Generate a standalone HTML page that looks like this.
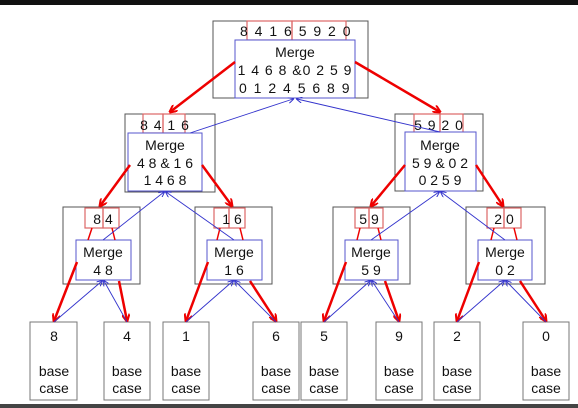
<!DOCTYPE html>
<html><head><style>body{margin:0;background:#fff}svg{display:block}text{font-family:"Liberation Sans",sans-serif;fill:#111}</style></head><body>
<svg width="578" height="408" viewBox="0 0 578 408">
<defs>
<marker id="r" markerWidth="8" markerHeight="8" refX="7" refY="4" orient="auto" markerUnits="userSpaceOnUse"><path d="M0,0 L8,4 L0,8" fill="none" stroke="#e00" stroke-width="2"/></marker>
<marker id="b" markerWidth="6" markerHeight="6" refX="5" refY="3" orient="auto" markerUnits="userSpaceOnUse"><path d="M0,0 L6,3 L0,6" fill="none" stroke="#33c" stroke-width="1"/></marker>
</defs>
<rect x="0" y="0" width="578" height="5" fill="#111"/>
<rect x="0" y="404" width="578" height="4" fill="#444"/>
<g fill="#fff" stroke="#555" stroke-width="1">
<rect x="213" y="21" width="155" height="77"/>
<rect x="125" y="114" width="90" height="78"/>
<rect x="395" y="114" width="88" height="77"/>
<rect x="63" y="207" width="77" height="77"/>
<rect x="195" y="207" width="77" height="77"/>
<rect x="333" y="207" width="77" height="77"/>
<rect x="466" y="207" width="79" height="77"/>
</g>
<g fill="none" stroke="#d66" stroke-width="1.2">
<rect x="247" y="21" width="45" height="19"/><rect x="292" y="21" width="54" height="19"/>
<rect x="143" y="114" width="20" height="19"/><rect x="163" y="114" width="22" height="19"/>
<rect x="414" y="114" width="26" height="19"/><rect x="440" y="114" width="23" height="19"/>
<rect x="85" y="208" width="18" height="20"/><rect x="103" y="208" width="16" height="20"/>
<rect x="214" y="208" width="15" height="20"/><rect x="229" y="208" width="16" height="20"/>
<rect x="355" y="208" width="14" height="20"/><rect x="369" y="208" width="14" height="20"/>
<rect x="487" y="208" width="17" height="20"/><rect x="504" y="208" width="17" height="20"/>
</g>
<g fill="#fff" stroke="#55c" stroke-width="1">
<rect x="235" y="40" width="120" height="58"/>
<rect x="128" y="133" width="74" height="58"/>
<rect x="405" y="132" width="71" height="59"/>
<rect x="76" y="240" width="55" height="40"/>
<rect x="207" y="240" width="55" height="40"/>
<rect x="345" y="240" width="53" height="40"/>
<rect x="478" y="240" width="54" height="40"/>
</g>
<g font-size="14" text-anchor="middle">
<text x="296" y="36" letter-spacing="1.5">8 4 1 6 5 9 2 0</text>
<text x="295" y="57">Merge</text><text x="295" y="75" letter-spacing="1">1 4 6 8 &amp;0 2 5 9</text><text x="295" y="93" letter-spacing="1.5">0 1 2 4 5 6 8 9</text>
<text x="165" y="130" letter-spacing="1">8 4 1 6</text>
<text x="165" y="150">Merge</text><text x="165" y="168">4 8 &amp; 1 6</text><text x="165" y="185">1 4 6 8</text>
<text x="439" y="130" letter-spacing="1">5 9 2 0</text>
<text x="440" y="150">Merge</text><text x="440" y="168">5 9 &amp; 0 2</text><text x="440" y="185">0 2 5 9</text>
<text x="103" y="224">8 4</text><text x="103" y="257">Merge</text><text x="103" y="275">4 8</text>
<text x="232" y="224">1 6</text><text x="234" y="257">Merge</text><text x="234" y="275">1 6</text>
<text x="369" y="224">5 9</text><text x="371" y="257">Merge</text><text x="371" y="275">5 9</text>
<text x="504" y="224">2 0</text><text x="505" y="257">Merge</text><text x="505" y="275">0 2</text>
</g>
<g fill="#fff" stroke="#777" stroke-width="1">
<rect x="30" y="322" width="47" height="78"/><rect x="104" y="322" width="46" height="78"/>
<rect x="163" y="322" width="46" height="78"/><rect x="253" y="322" width="46" height="78"/>
<rect x="301" y="322" width="46" height="78"/><rect x="376" y="322" width="46" height="78"/>
<rect x="434" y="322" width="46" height="78"/><rect x="523" y="322" width="46" height="78"/>
</g>
<g font-size="14" text-anchor="middle">
<text x="54" y="341">8</text><text x="127" y="341">4</text><text x="186" y="341">1</text><text x="276" y="341">6</text>
<text x="324" y="341">5</text><text x="399" y="341">9</text><text x="457" y="341">2</text><text x="546" y="341">0</text>
<text x="54" y="376">base</text><text x="54" y="393">case</text>
<text x="127" y="376">base</text><text x="127" y="393">case</text>
<text x="186" y="376">base</text><text x="186" y="393">case</text>
<text x="276" y="376">base</text><text x="276" y="393">case</text>
<text x="324" y="376">base</text><text x="324" y="393">case</text>
<text x="399" y="376">base</text><text x="399" y="393">case</text>
<text x="457" y="376">base</text><text x="457" y="393">case</text>
<text x="546" y="376">base</text><text x="546" y="393">case</text>
</g>
<g stroke="#e00" stroke-width="2.5" fill="none" marker-end="url(#r)">
<line x1="235" y1="62" x2="170" y2="112"/><line x1="355" y1="62" x2="440" y2="112"/>
<line x1="130" y1="165" x2="100" y2="206"/><line x1="202" y1="165" x2="232" y2="206"/>
<line x1="405" y1="165" x2="371" y2="206"/><line x1="476" y1="165" x2="503" y2="206"/>
<line x1="77" y1="262" x2="54" y2="321"/><line x1="119" y1="281" x2="127" y2="321"/>
<line x1="208" y1="262" x2="186" y2="321"/><line x1="250" y1="281" x2="276" y2="321"/>
<line x1="346" y1="262" x2="324" y2="321"/><line x1="385" y1="281" x2="399" y2="321"/>
<line x1="479" y1="262" x2="457" y2="321"/><line x1="520" y1="281" x2="546" y2="321"/>
</g>
<g stroke="#e00" stroke-width="1.5">
<line x1="92" y1="228" x2="88" y2="240"/><line x1="112" y1="228" x2="115" y2="240"/>
<line x1="220" y1="228" x2="217" y2="240"/><line x1="240" y1="228" x2="243" y2="240"/>
<line x1="360" y1="228" x2="357" y2="240"/><line x1="378" y1="228" x2="381" y2="240"/>
<line x1="494" y1="228" x2="491" y2="240"/><line x1="514" y1="228" x2="517" y2="240"/>
</g>
<g stroke="#33c" stroke-width="0.9" fill="none" marker-end="url(#b)">
<line x1="190" y1="133" x2="293" y2="99"/><line x1="440" y1="132" x2="297" y2="99"/>
<line x1="103" y1="240" x2="164" y2="192"/><line x1="234" y1="240" x2="166" y2="192"/>
<line x1="371" y1="240" x2="439" y2="192"/><line x1="505" y1="240" x2="441" y2="192"/>
<line x1="54" y1="322" x2="102" y2="281"/><line x1="127" y1="322" x2="104" y2="281"/>
<line x1="186" y1="322" x2="233" y2="281"/><line x1="276" y1="322" x2="235" y2="281"/>
<line x1="324" y1="322" x2="370" y2="281"/><line x1="399" y1="322" x2="372" y2="281"/>
<line x1="457" y1="322" x2="504" y2="281"/><line x1="546" y1="322" x2="506" y2="281"/>
</g>
</svg>
</body></html>
